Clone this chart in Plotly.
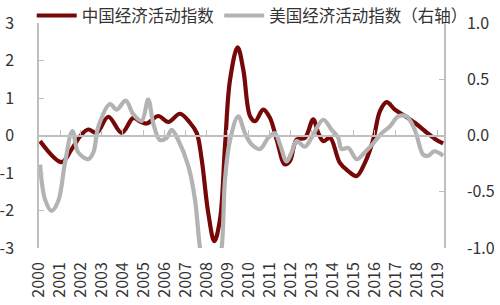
import plotly.graph_objects as go

# China economic activity index (left axis)
cn_t = [2000.05, 2001.08, 2001.55, 2002.03, 2002.35, 2002.75, 2003.3, 2003.94, 2004.49, 2004.8,
        2005.13, 2005.68, 2006.16, 2006.71, 2007.19, 2007.51, 2007.75, 2008.06, 2008.35, 2008.62,
        2008.86, 2009.1, 2009.46, 2009.73, 2010.05, 2010.29, 2010.68, 2011.0, 2011.32, 2011.71,
        2011.95, 2012.27, 2012.67, 2013.06, 2013.3, 2013.54, 2013.86, 2014.33, 2014.73, 2015.13,
        2015.52, 2015.92, 2016.24, 2016.56, 2016.95, 2017.43, 2017.9, 2018.38, 2018.86, 2019.25]
cn_v = [-0.15, -0.71, -0.37, 0.03, 0.16, 0.07, 0.5, 0.07, 0.47, 0.38,
        0.32, 0.52, 0.36, 0.58, 0.34, 0.07, -0.64, -2.06, -2.82, -2.24,
        -0.28, 1.49, 2.35, 1.76, 0.52, 0.38, 0.69, 0.47, -0.11, -0.77,
        -0.68, -0.11, -0.06, 0.43, 0.07, -0.15, -0.06, -0.73, -0.95, -1.08,
        -0.73, -0.11, 0.65, 0.89, 0.69, 0.52, 0.34, 0.12, -0.09, -0.21]

# US economic activity index (right axis)
us_t = [2000.05, 2000.29, 2000.6, 2000.92, 2001.24, 2001.59, 2001.87, 2002.35, 2002.59, 2002.83,
        2003.38, 2003.7, 2004.13, 2004.49, 2004.89, 2005.2, 2005.44, 2005.76, 2006.08, 2006.32,
        2006.63, 2007.11, 2007.43, 2007.67, 2008.0, 2008.3, 2008.7, 2008.86, 2009.1, 2009.49,
        2009.81, 2010.13, 2010.52, 2010.92, 2011.24, 2011.48, 2011.79, 2012.03, 2012.27, 2012.67,
        2013.06, 2013.54, 2013.94, 2014.25, 2014.41, 2014.73, 2015.13, 2015.52, 2015.92, 2016.32,
        2016.71, 2017.11, 2017.51, 2017.9, 2018.3, 2018.54, 2018.83, 2019.25]
us_v = [-0.26, -0.57, -0.67, -0.58, -0.24, 0.04, -0.15, -0.21, -0.15, 0.08,
        0.28, 0.23, 0.31, 0.19, 0.13, 0.32, 0.11, -0.04, -0.02, 0.05,
        -0.04, -0.27, -0.57, -1.0, -1.35, -1.45, -1.0, -0.39, -0.04, 0.17,
        0.02, -0.08, -0.12, -0.02, 0.02, -0.08, -0.23, -0.15, -0.05, -0.1,
        0.01, 0.14, 0.05, -0.02, -0.12, -0.11, -0.21, -0.15, -0.07, 0.02,
        0.08, 0.17, 0.17, 0.05, -0.17, -0.18, -0.14, -0.18]

years = list(range(2000, 2020))
year_labels = [str(y) for y in years]
left_ticks = [-3, -2, -1, 0, 1, 2, 3]
left_labels = ["-3", "-2", "-1", "0", "1", "2", "3"]
right_ticks = [-1.0, -0.5, 0.0, 0.5, 1.0]
right_labels = ["-1.0", "-0.5", "0.0", "0.5", "1.0"]

RED = "#760808"
GRAY = "#b3b3b3"
AXIS = "#bfbfbf"
FONT = "Noto Sans CJK SC"

fig = go.Figure()
fig.add_trace(go.Scatter(x=cn_t, y=cn_v, mode="lines", name="中国经济活动指数",
                         line=dict(color=RED, width=4.2, shape="spline", smoothing=1.0)))
fig.add_trace(go.Scatter(x=us_t, y=us_v, mode="lines", name="美国经济活动指数（右轴）",
                         yaxis="y2",
                         line=dict(color=GRAY, width=4.2, shape="spline", smoothing=1.0)))
# invisible trace to bind the zero-line tick axis
fig.add_trace(go.Scatter(x=[years[0]], y=[0], xaxis="x2", mode="lines",
                         showlegend=False, hoverinfo="skip", line=dict(width=0)))

fig.update_layout(
    width=500, height=305,
    margin=dict(l=39, r=56, t=23, b=57, autoexpand=False),
    paper_bgcolor="white", plot_bgcolor="white",
    font=dict(family=FONT, size=16, color="#333333"),
    showlegend=True,
    legend=dict(orientation="h", x=-0.018, xanchor="left", y=1.11, yanchor="top",
                font=dict(size=16.5, color="#333333"), bgcolor="rgba(0,0,0,0)",
                itemwidth=40, tracegroupgap=0),
    xaxis=dict(range=[2000, 2019.29], showgrid=False, zeroline=False, showline=False,
               tickvals=years, ticktext=year_labels, tickangle=-90, ticks="",
               ticklabelstandoff=10, tickfont=dict(size=16)),
    xaxis2=dict(range=[2000, 2019.29], overlaying="x", anchor="free", position=0.5,
                side="bottom", showgrid=False, zeroline=False, showline=True,
                linecolor=AXIS, linewidth=1.5, tickvals=years, ticks="inside",
                ticklen=5, tickcolor=AXIS, showticklabels=False),
    yaxis=dict(range=[-3, 3], tickvals=left_ticks, ticktext=left_labels, showgrid=False,
               zeroline=False, showline=True, linecolor=AXIS, linewidth=1.5,
               ticks="inside", ticklen=5, tickcolor=AXIS, ticklabelstandoff=20,
               tickfont=dict(size=16)),
    yaxis2=dict(range=[-1, 1], tickvals=right_ticks, ticktext=right_labels,
                overlaying="y", side="right", showgrid=False, zeroline=False,
                showline=True, linecolor=AXIS, linewidth=1.5, ticks="inside",
                ticklen=5, tickcolor=AXIS, ticklabelstandoff=18, tickfont=dict(size=16)),
)

fig.write_html("out.html")
